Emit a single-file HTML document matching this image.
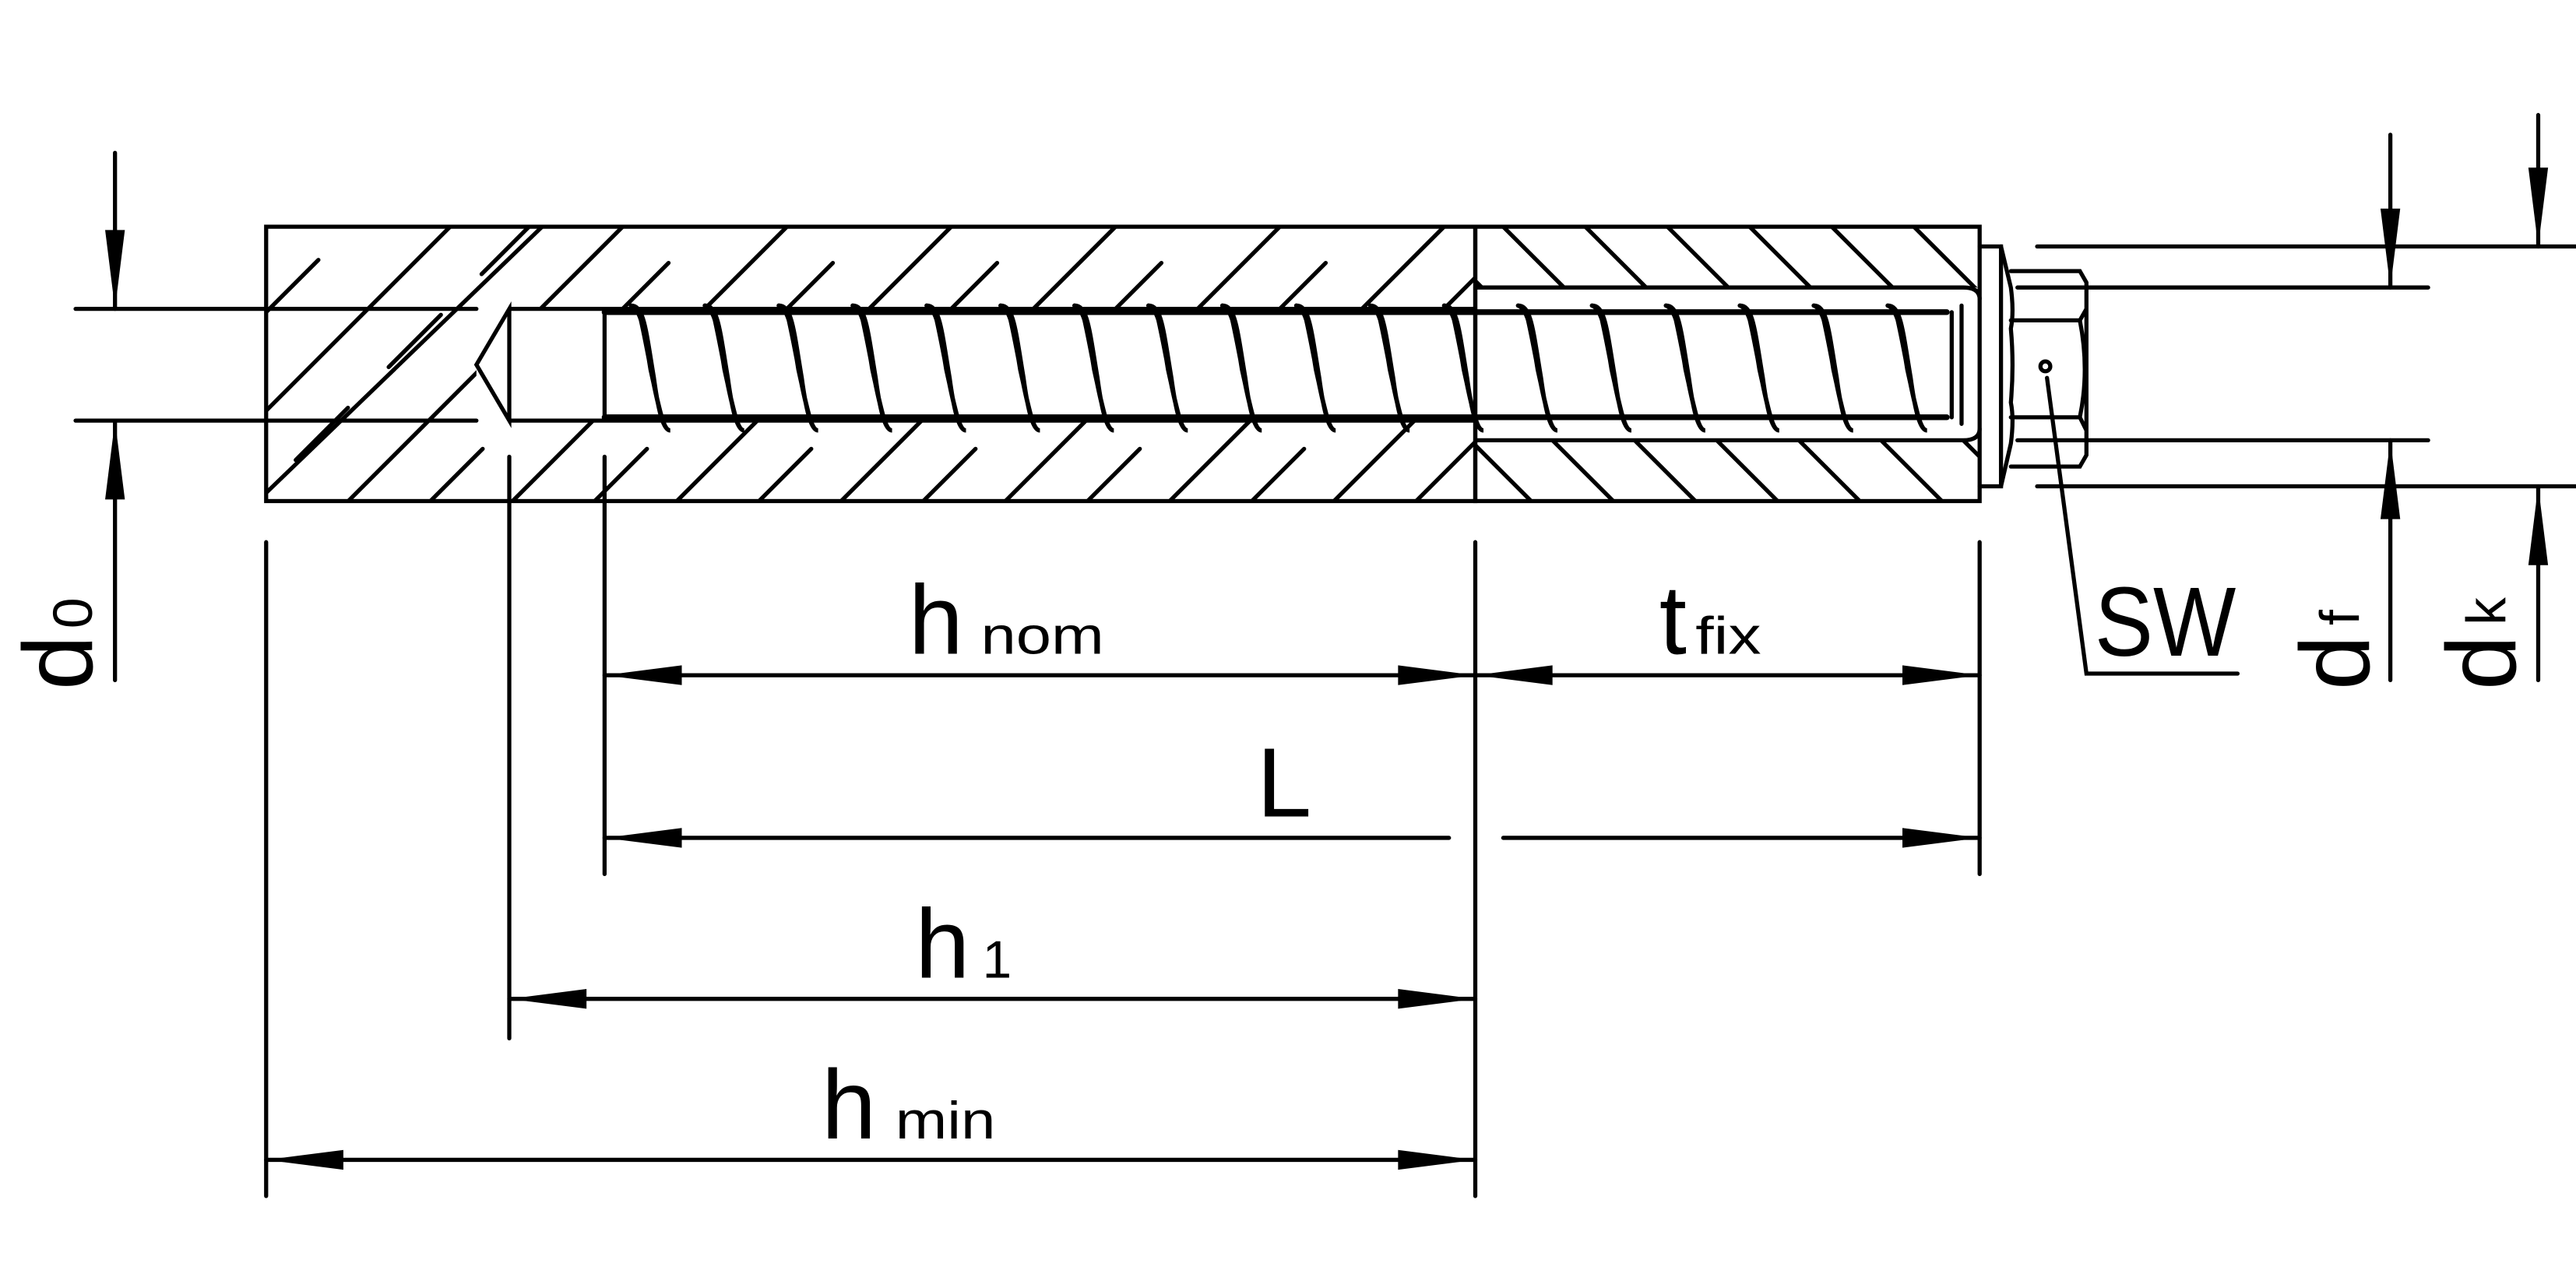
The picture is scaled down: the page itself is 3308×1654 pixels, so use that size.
<!DOCTYPE html>
<html><head><meta charset="utf-8"><style>
html,body{margin:0;padding:0;background:#fff}
svg{display:block}
text{font-family:"Liberation Sans",sans-serif;fill:#000}
</style></head><body>
<svg width="3308" height="1654" viewBox="0 0 1568 784" preserveAspectRatio="none" xmlns="http://www.w3.org/2000/svg">
<defs>
<clipPath id="cc"><path d="M162 138H898V305H162Z M290 188 L290 256 L898 256 L898 188Z" clip-rule="evenodd"/></clipPath>
<clipPath id="cf"><path d="M898 138H1205V175H898Z M898 268H1205V305H898Z"/></clipPath>
</defs>
<g stroke="#000" fill="none" stroke-width="2.5" stroke-linecap="round">
<g clip-path="url(#cc)">
<path d="M162 250 L274 138 M162 300 L330 138 M212 305 L379 138 M312 305 L479 138 M412 305 L579 138 M512 305 L679 138 M612 305 L779 138 M712 305 L879 138 M812 305 L898 219 M862 305 L898 269"/>
<path stroke-dasharray="45 35" d="M162 190 L214 138 M180 280 L330 130 M262 305 L429 138 M362 305 L529 138 M462 305 L629 138 M562 305 L729 138 M662 305 L829 138 M762 305 L898 169 M862 255 L898 219"/>
</g>
<g clip-path="url(#cf)">
<path d="M915 138 L1082 305 M965 138 L1132 305 M1015 138 L1182 305 M1065 138 L1232 305 M1115 138 L1282 305 M1165 138 L1332 305 M865 138 L1032 305 M815 138 L982 305 M765 138 L932 305"/>
</g>
<rect x="162" y="138" width="736" height="167"/>
<rect x="898" y="138" width="307" height="167"/>
<path d="M310 188 L898 188 M310 256 L898 256 M310 188 L310 256 L290 222 Z"/>
<path d="M898 175 L1195 175 M898 268 L1195 268 M1195 175 Q1205 175 1205 182 M1195 268 Q1205 268 1205 261"/>
<path stroke-width="3.5" d="M368 190 L1185 190 M368 254 L1185 254"/>
<path d="M368 190 L368 254 M1188 190 L1188 254 M1194 186 L1194 258"/>
<g stroke-width="2.6">
<path id="t" d="M384 186 C392 186 393 200 398 230 C401 252 404 262 408 262 C404 262 402 252 396 225 C392 200 390 188 384 186 M389 190 C394 210 398 240 404 258"/>
<use href="#t" x="45"/><use href="#t" x="90"/><use href="#t" x="135"/><use href="#t" x="180"/><use href="#t" x="225"/><use href="#t" x="270"/><use href="#t" x="315"/><use href="#t" x="360"/><use href="#t" x="405"/><use href="#t" x="450"/><use href="#t" x="495"/><use href="#t" x="540"/><use href="#t" x="585"/><use href="#t" x="630"/><use href="#t" x="675"/><use href="#t" x="720"/><use href="#t" x="765"/>
</g>
<path d="M1205 150 L1218 150 L1218 296 L1205 296"/>
<path d="M1218 150 L1224 175 Q1226 190 1224 200 Q1226 222 1224 245 Q1226 255 1224 270 L1218 296"/>
<path d="M1224 165 L1266 165 L1270 172 L1270 277 L1266 284 L1224 284 M1224 195 L1266 195 L1270 188 M1224 254 L1266 254 L1270 262 M1266 195 Q1272 225 1266 254"/>
<circle cx="1245" cy="223" r="3"/>
<path d="M1246 230 L1270 410 L1362 410"/>
<path d="M46 188 L290 188 M46 256 L290 256"/>
<path d="M1240 150 L1568 150 M1240 296 L1568 296 M1228 175 L1478 175 M1228 268 L1478 268"/>
<path d="M162 330 L162 728 M310 278 L310 632 M368 278 L368 532 M898 330 L898 728 M1205 330 L1205 532"/>
<path d="M70 93 L70 188 M70 256 L70 414"/>
<path d="M1455 82 L1455 175 M1455 268 L1455 414"/>
<path d="M1545 70 L1545 150 M1545 296 L1545 414"/>
<path d="M368 411 L898 411 M898 411 L1205 411 M368 510 L882 510 M915 510 L1205 510 M310 608 L898 608 M162 706 L898 706"/>
</g>
<g fill="#000">
<path d="M70 188 L64 140 L76 140Z M70 256 L64 304 L76 304Z"/>
<path d="M1455 175 L1449 127 L1461 127Z M1455 268 L1449 316 L1461 316Z"/>
<path d="M1545 150 L1539 102 L1551 102Z M1545 296 L1539 344 L1551 344Z"/>
<path d="M368 411 L415 405 L415 417Z M898 411 L851 405 L851 417Z M898 411 L945 405 L945 417Z M1205 411 L1158 405 L1158 417Z"/>
<path d="M368 510 L415 504 L415 516Z M1205 510 L1158 504 L1158 516Z"/>
<path d="M310 608 L357 602 L357 614Z M898 608 L851 602 L851 614Z"/>
<path d="M162 706 L209 700 L209 712Z M898 706 L851 700 L851 712Z"/>
</g>
<text x="553" y="398" font-size="60">h</text><text x="597" y="398" font-size="32" textLength="75" lengthAdjust="spacingAndGlyphs">nom</text>
<text x="1010" y="398" font-size="60">t</text><text x="1032" y="398" font-size="32" textLength="40" lengthAdjust="spacingAndGlyphs">fix</text>
<text x="765" y="497" font-size="60">L</text>
<text x="557" y="595" font-size="60">h</text><text x="598" y="595" font-size="32">1</text>
<text x="500" y="693" font-size="60">h</text><text x="545" y="693" font-size="32" textLength="61" lengthAdjust="spacingAndGlyphs">min</text>
<text x="1275" y="399" font-size="60" textLength="86" lengthAdjust="spacingAndGlyphs">SW</text>
<text transform="translate(56,420) rotate(-90)" font-size="60">d<tspan font-size="34" dx="4">0</tspan></text>
<text transform="translate(1442,420) rotate(-90)" font-size="60">d<tspan font-size="34" dx="6" dy="-6">f</tspan></text>
<text transform="translate(1531,420) rotate(-90)" font-size="60">d<tspan font-size="34" dx="6" dy="-6">k</tspan></text>
</svg>
</body></html>
